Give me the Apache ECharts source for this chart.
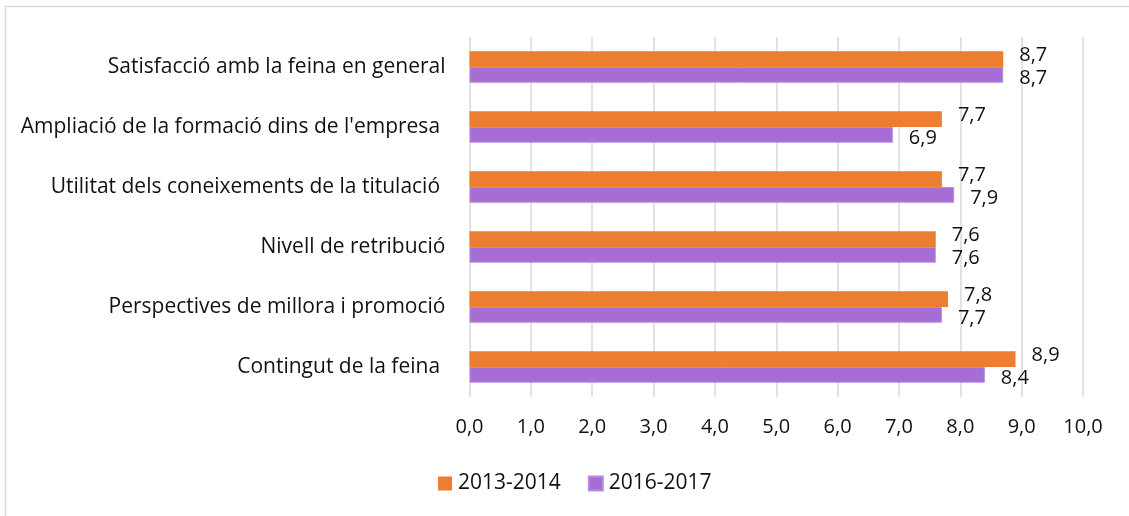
<!DOCTYPE html>
<html>
<head>
<meta charset="utf-8">
<script src="https://cdn.jsdelivr.net/npm/echarts@6/dist/echarts.min.js"></script>
<style>
  html, body { margin: 0; padding: 0; background: #fff; }
  #chart { width: 1129px; height: 516px; }
</style>
</head>
<body>
<div id="chart"></div>
<script>
// categories, top to bottom
const categories = [
  "Satisfacció amb la feina en general",
  "Ampliació de la formació dins de l'empresa ",
  "Utilitat dels coneixements de la titulació ",
  "Nivell de retribució",
  "Perspectives de millora i promoció",
  "Contingut de la feina "
];
const seriesNames = ["2013-2014", "2016-2017"];
const values2013 = [8.7, 7.7, 7.7, 7.6, 7.8, 8.9];
const values2016 = [8.7, 6.9, 7.9, 7.6, 7.7, 8.4];

const FONT = "Open Sans";
const FS = 21;
const fmt = (v) => v.toFixed(1).replace(".", ",");

const chart = echarts.init(document.getElementById("chart"), null, { renderer: "canvas" });

chart.setOption({
  animation: false,
  textStyle: { fontFamily: FONT },
  graphic: [
    {
      type: "rect",
      shape: { x: 5.5, y: 6.5, width: 1200, height: 600 },
      style: { fill: "none", stroke: "#d9d9d9", lineWidth: 1.5 },
      silent: true
    }
  ],
  grid: { left: 469.5, right: 46, top: 37, bottom: 119 },
  legend: {
    data: seriesNames,
    left: 433,
    top: 468,
    itemWidth: 14,
    itemHeight: 14,
    itemGap: 27,
    icon: "rect",
    textStyle: { fontFamily: FONT, fontSize: FS, color: "#111", padding: [0, 0, 0, 1] }
  },
  xAxis: {
    type: "value",
    min: 0,
    max: 10,
    interval: 1,
    axisLine: { show: false },
    axisTick: { show: false },
    splitLine: { lineStyle: { color: "#d9d9d9", width: 1.5 } },
    axisLabel: {
      formatter: fmt,
      fontFamily: FONT,
      fontSize: FS - 1,
      color: "#111",
      margin: 20
    }
  },
  yAxis: {
    type: "category",
    data: categories,
    inverse: true,
    axisLine: { show: false },
    axisTick: { show: false },
    splitLine: { show: false },
    axisLabel: {
      fontFamily: FONT,
      fontSize: FS,
      color: "#111",
      margin: 24
    }
  },
  series: [
    {
      name: seriesNames[0],
      type: "bar",
      data: values2013,
      barWidth: 15.7,
      barGap: "0%",
      itemStyle: { color: "#ED7D31" },
      label: {
        show: true,
        position: "right",
        distance: 16,
        offset: [0, -4],
        formatter: (p) => fmt(p.value),
        fontFamily: FONT,
        fontSize: FS - 1,
        color: "#111"
      }
    },
    {
      name: seriesNames[1],
      type: "bar",
      data: values2016,
      barWidth: 15.7,
      barGap: "0%",
      itemStyle: { color: "#A66ED4", borderColor: "#B98BE0", borderWidth: 1 },
      label: {
        show: true,
        position: "right",
        distance: 16,
        offset: [0, 3],
        formatter: (p) => fmt(p.value),
        fontFamily: FONT,
        fontSize: FS - 1,
        color: "#111"
      }
    }
  ]
});
</script>
</body>
</html>
